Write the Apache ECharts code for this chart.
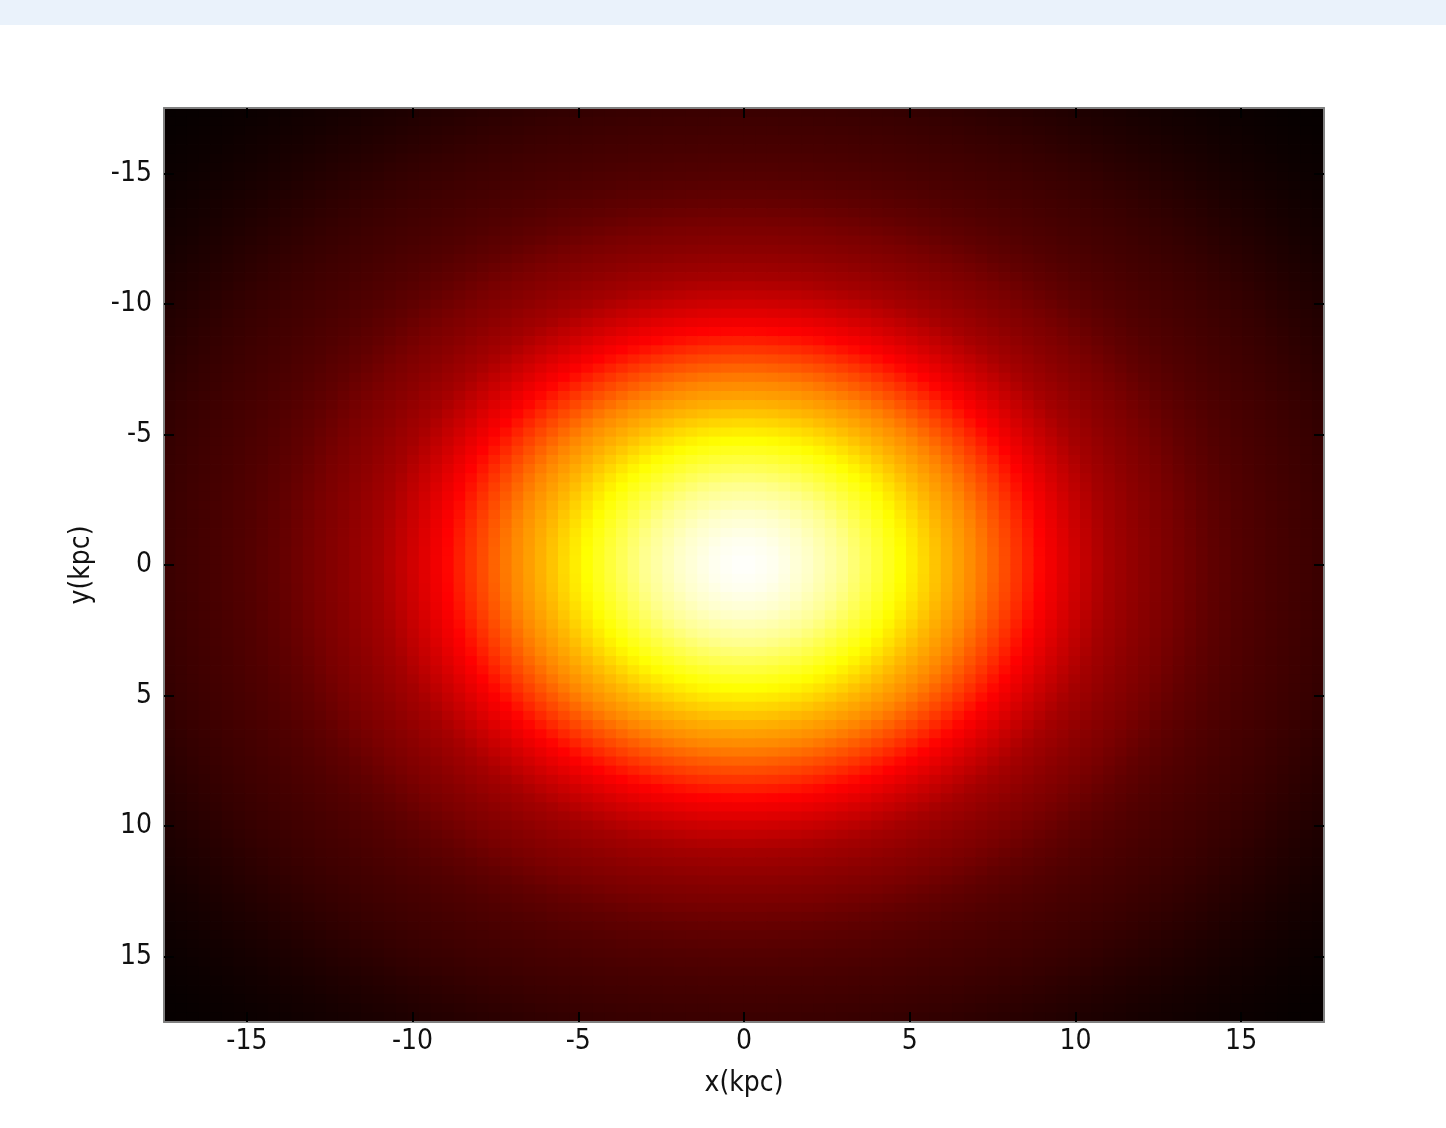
<!DOCTYPE html>
<html>
<head>
<meta charset="utf-8">
<script src="https://cdn.jsdelivr.net/npm/echarts@6/dist/echarts.min.js"></script>
<style>
html,body{margin:0;padding:0;background:#fff;}
#chart{width:1446px;height:1128px;}
</style>
</head>
<body>
<div id="chart"></div>
<script>
// Radial brightness profile (radius in kpc -> normalised intensity)
const radialR = [0,1,2,3,4,5,6,7,8,9,10,11,12,13,14,15,16,17,18,19,20,21,22,23,24,25];
const radialV = [1.0,0.982,0.945,0.89,0.81,0.73,0.645,0.57,0.475,0.375,0.305,0.243,0.207,0.178,0.144,0.121,0.105,0.092,0.078,0.062,0.047,0.034,0.024,0.016,0.011,0.007];
// Grid of cells
const cellCount = 100;
const extent = [-17.5, 17.5];
// Tick labels
const tickValues = [-15,-10,-5,0,5,10,15];
const xName = 'x(kpc)';
const yName = 'y(kpc)';
// MATLAB "hot" colour map
const hotColors = ['#000000','#550000','#aa0000','#ff0000','#ff5500','#ffaa00','#ffff00','#ffff80','#ffffff'];

const step = (extent[1]-extent[0]) / cellCount;
const centers = [];
for (let i = 0; i < cellCount; i++) centers.push(extent[0] + step*(i+0.5));

function profileAt(r){
  if (r >= radialR[radialR.length-1]) return radialV[radialV.length-1];
  for (let k = 0; k < radialR.length-1; k++){
    if (r <= radialR[k+1]){
      const t = (r - radialR[k])/(radialR[k+1]-radialR[k]);
      return radialV[k] + t*(radialV[k+1]-radialV[k]);
    }
  }
  return 0;
}
const cells = [];
for (let i = 0; i < cellCount; i++){
  for (let j = 0; j < cellCount; j++){
    const r = Math.sqrt(centers[i]*centers[i] + centers[j]*centers[j]);
    cells.push([centers[i], centers[j], profileAt(r)]);
  }
}

const FONT = "'Liberation Sans Narrow','DejaVu Sans Condensed','Arial Narrow',sans-serif";
const tickStyle = {show:true, inside:true, length:10, customValues:tickValues, lineStyle:{color:'#000', width:2}};
const lineStyle = {show:true, onZero:false, lineStyle:{color:'#808080', width:2}};

function renderCell(params, api){
  const x = api.value(0), y = api.value(1);
  const p0 = api.coord([x - step/2, y - step/2]);
  const p1 = api.coord([x + step/2, y + step/2]);
  const x0 = Math.min(p0[0], p1[0]), x1 = Math.max(p0[0], p1[0]);
  const y0 = Math.min(p0[1], p1[1]), y1 = Math.max(p0[1], p1[1]);
  return {
    type:'rect',
    shape:{x:x0 - 0.4, y:y0 - 0.4, width:x1 - x0 + 0.8, height:y1 - y0 + 0.8},
    style:{fill:api.visual('color')},
    silent:true
  };
}

const chart = echarts.init(document.getElementById('chart'), null, {renderer:'canvas'});
chart.setOption({
  backgroundColor:'#ffffff',
  animation:false,
  graphic:[{type:'rect', shape:{x:0,y:0,width:1446,height:25}, style:{fill:'#eaf2fb'}, z:0}],
  grid:{left:164, top:108, width:1160, height:914},
  xAxis:[
    {type:'value', min:extent[0], max:extent[1], position:'bottom', z:10,
     axisLine:lineStyle, axisTick:tickStyle, splitLine:{show:false},
     axisLabel:{show:true, customValues:tickValues, color:'#111', fontSize:28, fontFamily:FONT, margin:6},
     name:xName, nameLocation:'middle', nameGap:48,
     nameTextStyle:{color:'#111', fontSize:28, fontFamily:FONT}},
    {type:'value', min:extent[0], max:extent[1], position:'top', z:10,
     axisLine:lineStyle, axisTick:tickStyle, splitLine:{show:false}, axisLabel:{show:false}}
  ],
  yAxis:[
    {type:'value', min:extent[0], max:extent[1], inverse:true, position:'left', z:10,
     axisLine:lineStyle, axisTick:tickStyle, splitLine:{show:false},
     axisLabel:{show:true, customValues:tickValues, color:'#111', fontSize:28, fontFamily:FONT, margin:12},
     name:yName, nameLocation:'middle', nameGap:68, nameRotate:90,
     nameTextStyle:{color:'#111', fontSize:28, fontFamily:FONT}},
    {type:'value', min:extent[0], max:extent[1], inverse:true, position:'right', z:10,
     axisLine:lineStyle, axisTick:tickStyle, splitLine:{show:false}, axisLabel:{show:false}}
  ],
  visualMap:{type:'continuous', show:false, min:0, max:1, seriesIndex:0, dimension:2,
    inRange:{color:hotColors}},
  series:[{
    type:'custom', xAxisIndex:0, yAxisIndex:0, data:cells, clip:true,
    renderItem:renderCell, progressive:0, animation:false,
    encode:{x:0, y:1}
  }]
});
</script>
</body>
</html>
